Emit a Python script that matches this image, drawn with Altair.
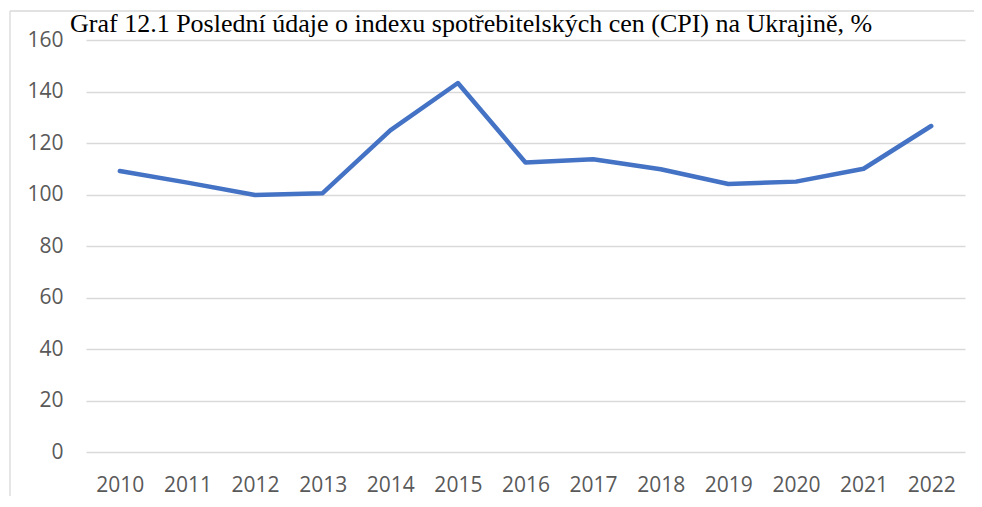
import altair as alt
import pandas as pd

title_text = "Graf 12.1 Poslední údaje o indexu spotřebitelských cen (CPI) na Ukrajině, %"
years = ["2010", "2011", "2012", "2013", "2014", "2015", "2016",
         "2017", "2018", "2019", "2020", "2021", "2022"]
cpi = [109.1, 104.6, 99.8, 100.5, 124.9, 143.3, 112.4, 113.7, 109.8, 104.1, 105.0, 110.0, 126.6]
y_ticks = [0, 20, 40, 60, 80, 100, 120, 140, 160]

df = pd.DataFrame({"year": years, "cpi": cpi})

W, H = 879, 412
AXIS_FONT = "Open Sans"

line = alt.Chart(df).mark_line(
    color="#4472C4", strokeWidth=4.5, strokeCap="round", strokeJoin="round"
).encode(
    x=alt.X("year:O", title=None, sort=years,
            axis=alt.Axis(labelAngle=0, ticks=False, domain=False, grid=False,
                          labelFont=AXIS_FONT, labelFontSize=21, labelColor="#595959",
                          labelPadding=22)),
    y=alt.Y("cpi:Q", title=None, scale=alt.Scale(domain=[0, 160], nice=False, zero=True),
            axis=alt.Axis(values=y_ticks, ticks=False, domain=False, grid=True,
                          gridColor="#d9d9d9", gridWidth=1.3,
                          labelFont=AXIS_FONT, labelFontSize=21, labelColor="#595959",
                          labelPadding=23)),
)

frame_data = alt.Data(values=[{"k": 1}])
left_border = alt.Chart(frame_data).mark_rule(color="#d9d9d9", strokeWidth=1.3).encode(
    x=alt.value(-76), y=alt.value(-29), y2=alt.value(H + 60)
)
top_border = alt.Chart(frame_data).mark_rule(color="#d9d9d9", strokeWidth=1.3).encode(
    y=alt.value(-29), x=alt.value(-76), x2=alt.value(W + 9)
)
title_mark = alt.Chart(frame_data).mark_text(
    text=title_text, font="Liberation Serif", fontSize=26, color="#000000",
    align="left", baseline="alphabetic"
).encode(x=alt.value(-16), y=alt.value(-8))

chart = alt.layer(left_border, top_border, title_mark, line).properties(
    width=W, height=H,
    background="white",
    autosize=alt.AutoSizeParams(type="none"),
    padding={"left": 78, "top": 32, "right": 9, "bottom": 44},
).configure_view(strokeWidth=0)

chart.save("out.html", embed_options={"renderer": "svg", "actions": False})
